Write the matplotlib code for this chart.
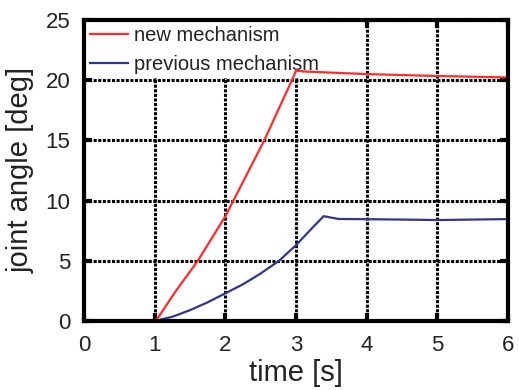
import numpy as np
import matplotlib
matplotlib.use("Agg")
from matplotlib import pyplot as plt

plt.rcParams['font.family'] = ['Liberation Sans', 'DejaVu Sans']

# new mechanism (red)
t_new = [0.0, 1.0, 1.05, 1.3, 1.61, 2.0, 2.55, 2.95, 3.0, 3.1, 3.5, 4.0, 4.5, 5.0, 5.5, 6.0]
a_new = [0.0, 0.0, 0.3, 2.5, 5.0, 8.7, 15.0, 20.1, 20.8, 20.72, 20.62, 20.5, 20.42, 20.34, 20.28, 20.22]

# previous mechanism (blue)
t_prev = [0.0, 1.0, 1.25, 1.5, 1.75, 2.0, 2.25, 2.5, 2.76, 3.0, 3.2, 3.39, 3.6, 4.0, 4.5, 5.0, 5.5, 6.0]
a_prev = [0.0, 0.0, 0.35, 0.9, 1.55, 2.3, 3.05, 3.95, 5.0, 6.3, 7.55, 8.7, 8.47, 8.45, 8.42, 8.38, 8.42, 8.46]

xticks = [0, 1, 2, 3, 4, 5, 6]
yticks = [0, 5, 10, 15, 20, 25]

fig = plt.figure(figsize=(5.19, 3.9), dpi=100)
ax = fig.add_axes([0.162, 0.177, 0.817, 0.772])

ax.plot(t_new, a_new, color='#ff2a2a', lw=1.6, label='new mechanism', zorder=3)
ax.plot(t_prev, a_prev, color='#33358a', lw=1.6, label='previous mechanism', zorder=3)

ax.set_xlim(0, 6)
ax.set_ylim(0, 25)
ax.set_xticks(xticks)
ax.set_yticks(yticks)
ax.grid(True, color='black', lw=2.2, linestyle=(0, (1, 0.5)))
ax.set_axisbelow(True)

for s in ax.spines.values():
    s.set_linewidth(3)
    s.set_zorder(4)
ax.tick_params(direction='in', length=6, width=3, top=True, right=True,
               labelsize=16, labelcolor='#222222', pad=10)

ax.set_xlabel('time [s]', fontsize=21, color='#222222', labelpad=2)
ax.set_ylabel('joint angle [deg]', fontsize=21, color='#222222', labelpad=8)

leg = ax.legend(loc='upper left', fontsize=14.5, frameon=True, fancybox=False,
                borderaxespad=0.1, handlelength=1.9, handletextpad=0.3,
                labelspacing=0.5, borderpad=0.2)
leg.get_frame().set_edgecolor('none')
leg.get_frame().set_facecolor('white')
leg.get_frame().set_alpha(1)
leg.set_zorder(2)
for txt in leg.get_texts():
    txt.set_color('#222222')

plt.savefig('out.png', dpi=100)
